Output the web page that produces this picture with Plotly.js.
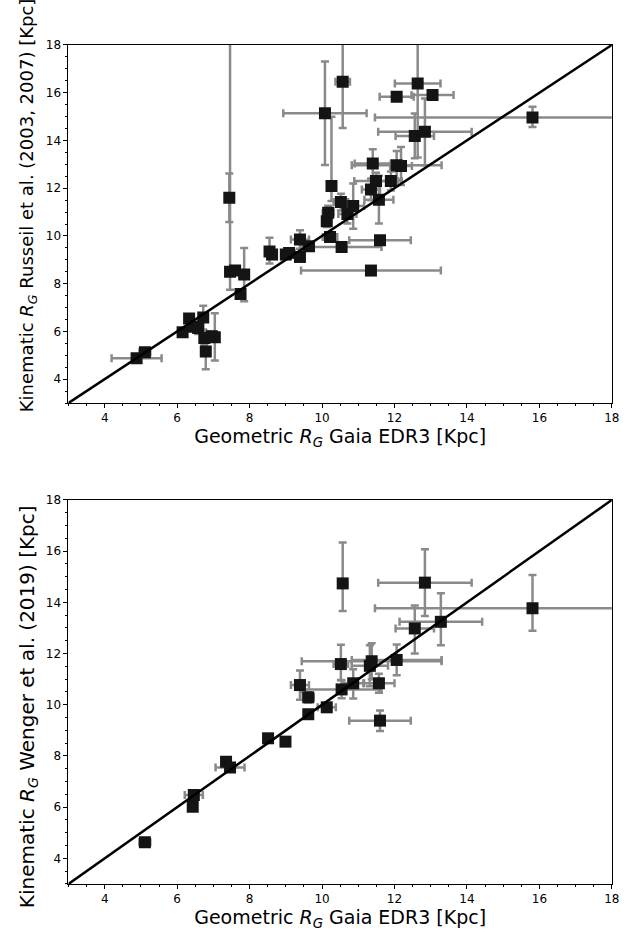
<!DOCTYPE html>
<html>
<head>
<meta charset="utf-8">
<script src="https://cdn.plot.ly/plotly-3.0.1.min.js"></script>
<style>
  html, body { margin: 0; padding: 0; background: #ffffff; }
  #chart { width: 640px; height: 941px; }
</style>
</head>
<body>
<div id="chart"></div>
<script>
// Galactocentric distances: geometric (Gaia EDR3) vs kinematic estimates, in Kpc.

// Upper panel: Russeil et al. (2003, 2007)
const rusX      = [4.88, 5.11, 6.15, 6.33, 6.45, 6.58, 6.72, 6.75, 6.79, 6.96, 7.04, 7.44, 7.46, 7.60, 7.85, 7.75,
                   8.55, 8.62, 9.00, 9.09, 9.39, 9.39, 9.64, 10.13, 10.17, 10.26, 10.22, 10.54, 10.08, 10.57, 10.52, 10.86,
                   10.70, 11.35, 11.60, 11.35, 11.57, 11.49, 11.90, 11.40, 12.06, 12.18, 12.06, 13.05, 12.64, 12.56, 12.84, 15.81];
const rusY      = [4.88, 5.13, 5.97, 6.54, 6.20, 6.14, 6.58, 5.72, 5.16, 5.80, 5.76, 11.60, 8.50, 8.55, 8.38, 7.57,
                   9.35, 9.22, 9.22, 9.29, 9.85, 9.12, 9.57, 10.62, 10.97, 12.09, 9.96, 9.54, 15.14, 16.46, 11.42, 11.25,
                   10.92, 8.55, 9.82, 11.95, 11.52, 12.30, 12.30, 13.03, 12.96, 12.93, 15.83, 15.90, 16.39, 14.19, 14.36, 14.96];
const rusXErr   = [0.69, 0.15, 0.08, 0.10, 0.15, 0.10, 0.08, 0.08, 0.08, 0.08, 0.08, 0.05, 0.05, 0.08, 0.05, 0.05,
                   0.05, 0.08, 0.08, 0.15, 0.25, 0.10, 0.10, 0.10, 0.15, 0.10, 0.20, 1.10, 1.15, 0.20, 0.20, 0.30,
                   0.25, 1.93, 0.85, 0.25, 0.40, 0.60, 0.30, 0.50, 1.24, 0.30, 0.47, 0.58, 0.63, 0.53, 1.29, 4.35];
const rusYErrUp = [0.10, 0.12, 0.10, 0.15, 0.15, 0.25, 0.50, 0.30, 0.74, 0.20, 1.00, 1.02, 10.0, 0.10, 1.12, 0.10,
                   0.57, 0.10, 0.10, 0.15, 0.39, 0.10, 0.15, 0.25, 0.30, 2.90, 0.20, 0.15, 2.17, 2.50, 0.35, 0.95,
                   0.40, 0.12, 0.15, 0.45, 1.00, 0.35, 0.40, 0.60, 0.60, 0.80, 0.15, 0.15, 3.00, 0.94, 1.40, 0.45];
const rusYErrDn = [0.10, 0.12, 0.10, 0.15, 0.15, 0.25, 0.50, 0.30, 0.74, 0.20, 0.98, 1.02, 0.75, 0.10, 1.12, 0.10,
                   0.50, 0.10, 0.10, 0.15, 0.39, 0.10, 0.15, 0.25, 0.30, 0.63, 0.20, 0.15, 2.17, 1.94, 0.35, 0.95,
                   0.40, 0.12, 0.15, 0.45, 1.00, 0.35, 0.40, 0.60, 0.60, 0.80, 0.15, 0.15, 3.10, 0.94, 1.40, 0.40];

// Lower panel: Wenger et al. (2019)
const wenX      = [5.11, 6.43, 6.46, 7.35, 7.46, 8.51, 8.99, 9.39, 9.62, 9.62, 10.13, 10.54, 10.52, 10.57, 10.86, 11.57,
                   11.60, 11.37, 11.32, 12.06, 12.56, 12.84, 13.28, 15.81];
const wenY      = [4.63, 6.02, 6.48, 7.77, 7.55, 8.69, 8.56, 10.77, 10.29, 9.63, 9.90, 10.60, 11.59, 14.74, 10.84, 10.84,
                   9.38, 11.70, 11.52, 11.75, 12.98, 14.77, 13.24, 13.77];
const wenXErr   = [0.15, 0.10, 0.25, 0.10, 0.40, 0.08, 0.10, 0.25, 0.15, 0.10, 0.25, 1.10, 0.20, 0.12, 0.30, 0.43,
                   0.85, 1.93, 0.50, 1.24, 0.53, 1.29, 1.14, 4.35];
const wenYErrUp = [0.12, 0.10, 0.12, 0.12, 0.12, 0.08, 0.15, 0.57, 0.20, 0.15, 0.10, 0.35, 0.75, 1.60, 0.55, 0.37,
                   0.40, 0.70, 0.80, 0.60, 0.90, 1.30, 1.12, 1.30];
const wenYErrDn = [0.12, 0.10, 0.12, 0.12, 0.12, 0.08, 0.15, 0.57, 0.20, 0.15, 0.10, 0.35, 0.62, 1.08, 0.60, 0.37,
                   0.40, 0.70, 0.80, 0.60, 0.98, 1.30, 0.92, 0.88];

// One-to-one reference line
const identityLine = [3, 18];

// Axis labels
const xTitle = 'Geometric <i>R</i><sub><i>G</i></sub> Gaia EDR3 [Kpc]';
const yTitleTop = 'Kinematic <i>R</i><sub><i>G</i></sub> Russeil et al. (2003, 2007) [Kpc]';
const yTitleBottom = 'Kinematic <i>R</i><sub><i>G</i></sub> Wenger et al. (2019) [Kpc]';

const errStyle = { color: '#8a8a8a', thickness: 2.5, width: 4 };
const markerStyle = { symbol: 'square', size: 12, color: '#141414', line: { width: 0 } };

function pointsTrace(x, y, xe, yu, yd, xa, ya) {
  return {
    type: 'scatter', mode: 'markers', x: x, y: y, xaxis: xa, yaxis: ya,
    marker: markerStyle,
    error_x: Object.assign({ type: 'data', array: xe, symmetric: true }, errStyle),
    error_y: Object.assign({ type: 'data', array: yu, arrayminus: yd, symmetric: false }, errStyle),
    hoverinfo: 'x+y', showlegend: false
  };
}

function lineTrace(xa, ya) {
  return {
    type: 'scatter', mode: 'lines', x: identityLine, y: identityLine, xaxis: xa, yaxis: ya,
    line: { color: '#000000', width: 2.5 }, hoverinfo: 'skip', showlegend: false
  };
}

const data = [
  pointsTrace(rusX, rusY, rusXErr, rusYErrUp, rusYErrDn, 'x', 'y'),
  lineTrace('x', 'y'),
  pointsTrace(wenX, wenY, wenXErr, wenYErrUp, wenYErrDn, 'x2', 'y2'),
  lineTrace('x2', 'y2')
];

const tickFont = { family: 'DejaVu Sans', size: 12, color: '#000000' };

function axis(domain, anchor, titleText) {
  return {
    domain: domain, anchor: anchor, range: [3, 18], autorange: false,
    tick0: 0, dtick: 2, ticks: 'outside', ticklen: 4, tickwidth: 1, tickcolor: '#000000',
    minor: { tick0: 0, dtick: 0.5, ticks: 'outside', ticklen: 2, tickwidth: 1, tickcolor: '#000000', showgrid: false },
    showline: true, linecolor: '#000000', linewidth: 1, mirror: true,
    showgrid: false, zeroline: false,
    tickfont: tickFont,
    title: { text: titleText, font: { family: 'DejaVu Sans', size: 19, color: '#000000' }, standoff: 5 },
    automargin: false
  };
}

function yLabel(text, yCenter, size) {
  return {
    text: text, textangle: -90, showarrow: false,
    xref: 'paper', yref: 'paper', x: 0.044, y: yCenter,
    xanchor: 'center', yanchor: 'middle',
    font: { family: 'DejaVu Sans', size: size, color: '#000000' }
  };
}

const layout = {
  width: 640, height: 941,
  margin: { l: 0, r: 0, t: 0, b: 0 },
  paper_bgcolor: '#ffffff', plot_bgcolor: '#ffffff',
  font: { family: 'DejaVu Sans', color: '#000000' },
  xaxis: axis([0.107, 0.956], 'y', xTitle),
  yaxis: axis([0.5717, 0.9522], 'x', ''),
  xaxis2: axis([0.107, 0.956], 'y2', xTitle),
  yaxis2: axis([0.0606, 0.4687], 'x2', ''),
  annotations: [
    yLabel(yTitleTop, 0.7821, 18),
    yLabel(yTitleBottom, 0.2487, 20)
  ]
};

Plotly.newPlot('chart', data, layout, { displayModeBar: false, staticPlot: true });
</script>
</body>
</html>
